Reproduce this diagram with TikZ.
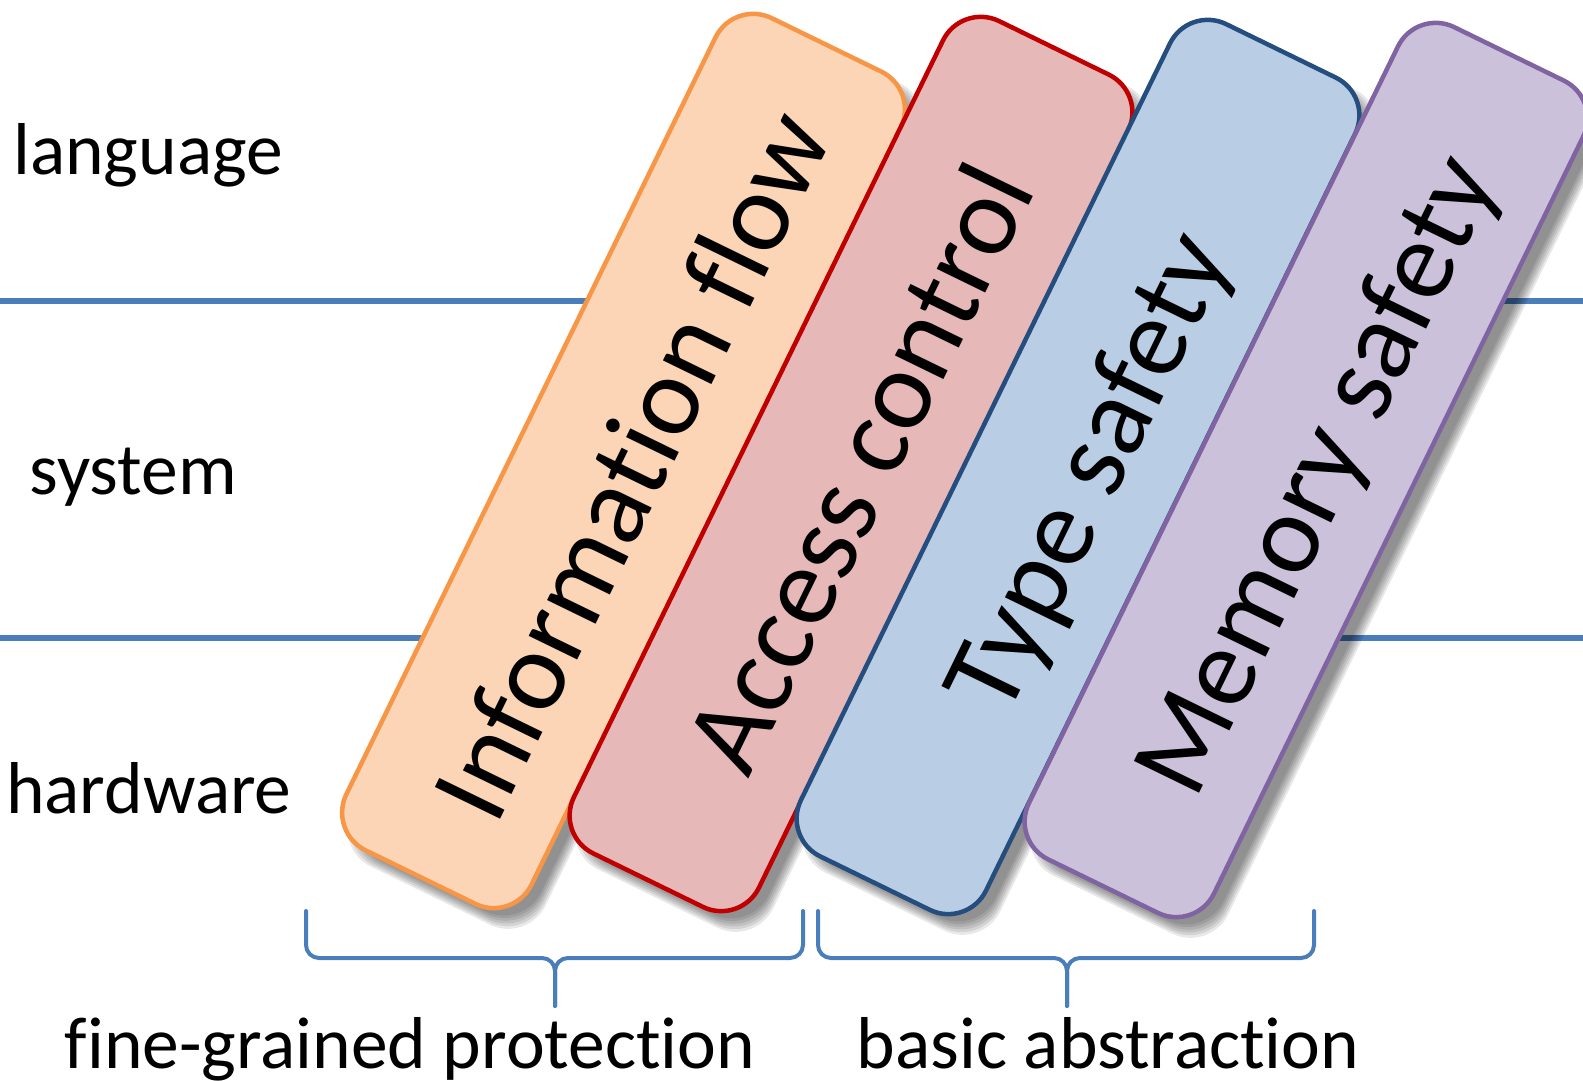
\documentclass[tikz,border=0pt]{standalone}
\usepackage{fontspec}
\setmainfont{Carlito}[Ligatures={NoCommon,NoContextual}]
\definecolor{lineblue}{HTML}{4A7EBB}
\definecolor{orfill}{HTML}{FBD5B5}
\definecolor{ordraw}{HTML}{F79646}
\definecolor{rdfill}{HTML}{E6B8B7}
\definecolor{rddraw}{HTML}{C00000}
\definecolor{blfill}{HTML}{B9CDE5}
\definecolor{bldraw}{HTML}{254E7F}
\definecolor{pufill}{HTML}{CCC1DA}
\definecolor{pudraw}{HTML}{8064A2}
\newcommand\myshadow[2]{%
  \begin{scope}[shift={(#1+12,#2-14)}, rotate=64]
    \foreach \a/\b in {468/108,466/106,464/104,462/102,460/100,458/98}{
      \fill[black, opacity=0.09, rounded corners=42pt] (-\a,-\b) rectangle (\a,\b);
    }
  \end{scope}}
\newcommand\mybox[6]{%
  \myshadow{#1}{#2}
  \begin{scope}[shift={(#1,#2)}, rotate=64]
    \filldraw[fill=#3, draw=#4, line width=4.5pt, rounded corners=42pt] (-463,-103) rectangle (463,103);
  \end{scope}
  \node[boxtext] (#6) at (#1+39.5,#2-19.3) {#5};}
\begin{document}
\begin{tikzpicture}[x=1pt,y=1pt,
  hline/.style={draw=lineblue, line width=5.5pt},
  lbl/.style={anchor=base west, inner sep=0pt, font=\fontsize{73.5}{88}\selectfont},
  blbl/.style={anchor=base, inner sep=0pt, font=\fontsize{73.5}{88}\selectfont},
  boxtext/.style={rotate=64, inner sep=0pt, font=\fontsize{113}{136}\selectfont, text height=0.75em, text depth=0.25em},
  bracestyle/.style={draw=lineblue, line width=4pt, rounded corners=13pt, line cap=round, line join=round}]
\useasboundingbox (0,0) rectangle (1583,1080);
% layer lines
\coordinate (l1a) at (0,779);
\coordinate (l1b) at (1583,779);
\coordinate (l2a) at (0,442);
\coordinate (l2b) at (1583,442);
\draw[hline] (l1a) -- (l1b);
\draw[hline] (l2a) -- (l2b);
% layer labels
\node[lbl] (lang) at (13,905) {language};
\node[lbl] (sys) at (29.5,585) {system};
\node[lbl] (hw) at (6,266) {hardware};
% boxes
\mybox{623.5}{619}{orfill}{ordraw}{Information flow}{info}
\mybox{851}{616}{rdfill}{rddraw}{Access control}{access}
\mybox{1078}{613}{blfill}{bldraw}{Type safety}{type}
\mybox{1306}{610}{pufill}{pudraw}{Memory safety}{mem}
% braces
\draw[bracestyle] (306,169) -- (306,122) -- (555,122) -- (555,74);
\draw[bracestyle] (803,169) -- (803,122) -- (555,122) -- (555,74);
\draw[bracestyle] (818,169) -- (818,122) -- (1067,122) -- (1067,74);
\draw[bracestyle] (1314,169) -- (1314,122) -- (1067,122) -- (1067,74);
% group labels
\node[blbl] (fine) at (410,12) {fine-grained protection};
\node[blbl] (basic) at (1108,12) {basic abstraction};
\end{tikzpicture}
\end{document}
